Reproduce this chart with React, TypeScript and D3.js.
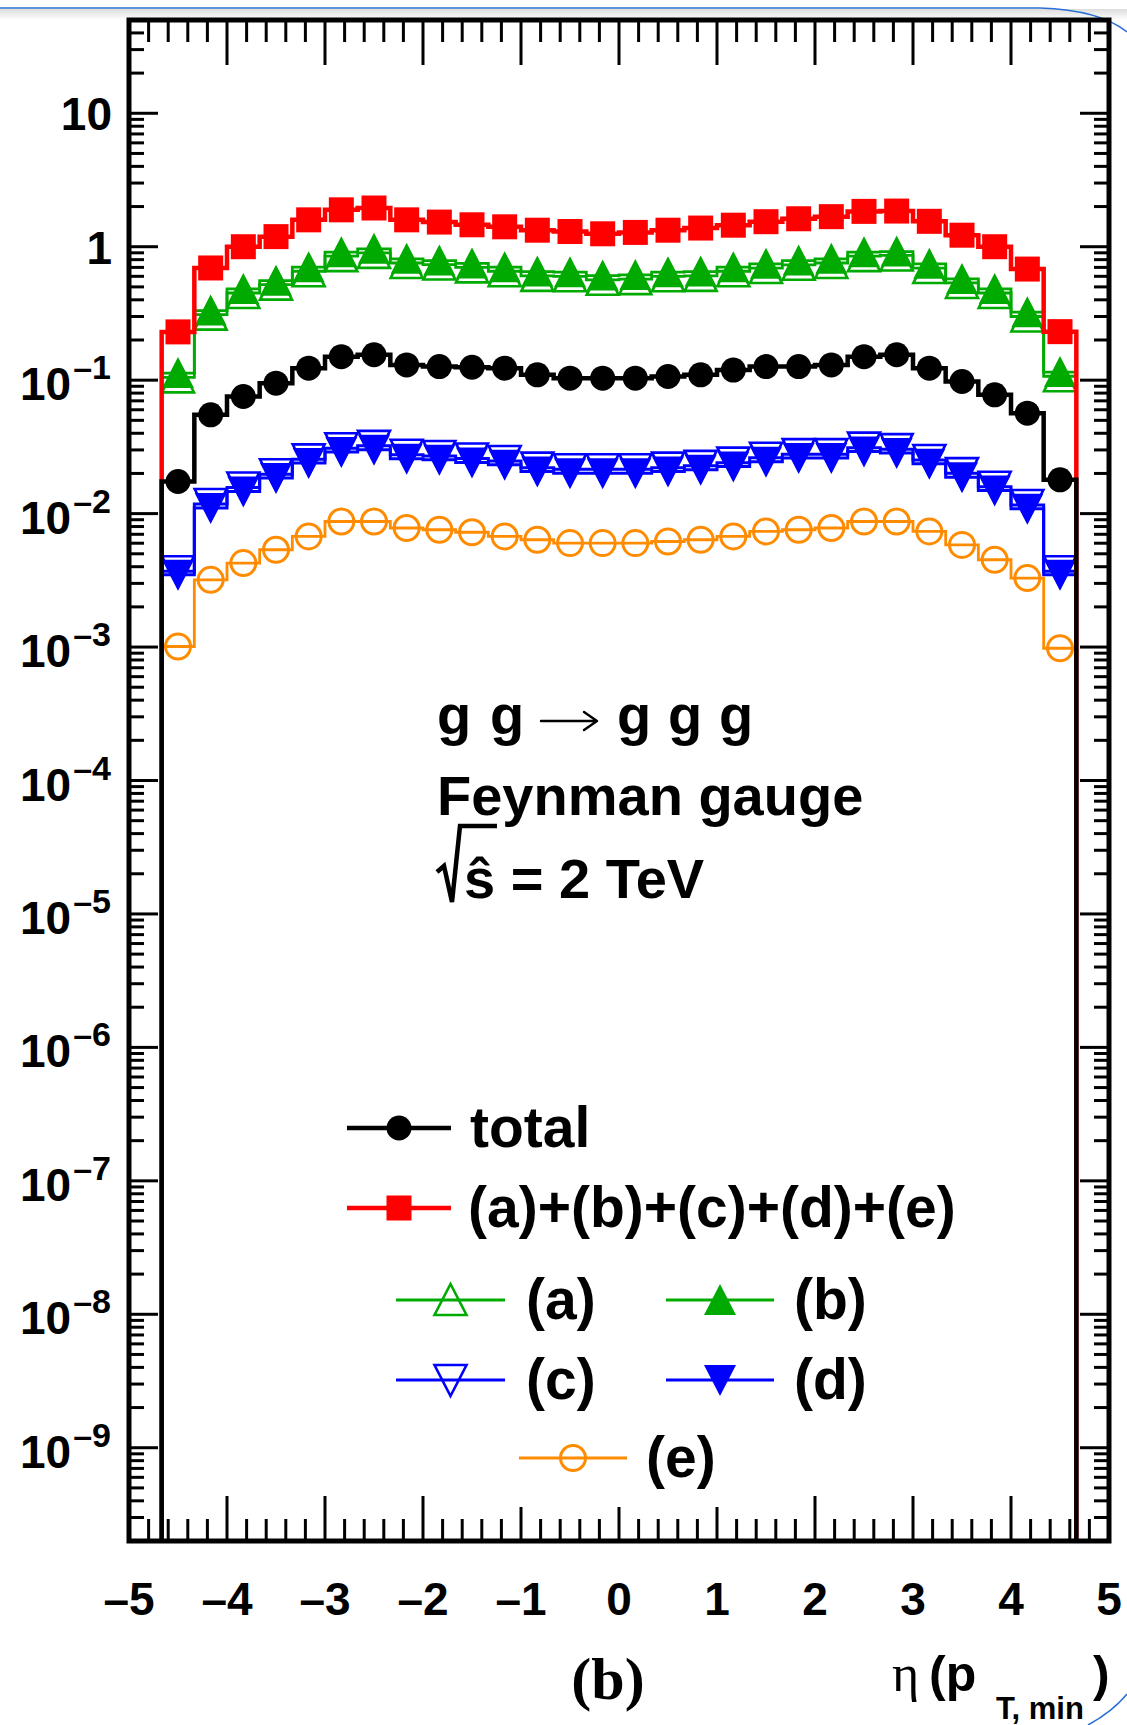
import React from 'react';
import * as d3 from 'd3';

// pseudorapidity binning: 28 bins of width 1/3 between -14/3 and 14/3
const binEdges: number[] = d3.range(29).map((i) => -14 / 3 + i / 3);

// dσ/dη per bin, one array per curve
const totalVals = [
  0.0174, 0.055, 0.0754, 0.095, 0.123, 0.15, 0.155, 0.13, 0.1265, 0.125,
  0.123, 0.1096, 0.1035, 0.1035, 0.1035, 0.1065, 0.1096, 0.119, 0.1265, 0.1265,
  0.13, 0.15, 0.155, 0.123, 0.0977, 0.0777, 0.0566, 0.0179,
];
const sumVals = [
  0.23, 0.693, 1.0, 1.19, 1.59, 1.89, 1.95, 1.59, 1.53, 1.46,
  1.41, 1.33, 1.3, 1.25, 1.28, 1.33, 1.38, 1.45, 1.54, 1.62,
  1.68, 1.84, 1.85, 1.55, 1.22, 1.0, 0.68, 0.231,
];
const aVals = [
  0.105, 0.31, 0.45, 0.52, 0.655, 0.85, 0.9, 0.755, 0.735, 0.7,
  0.655, 0.605, 0.6, 0.565, 0.572, 0.6, 0.605, 0.655, 0.692, 0.732,
  0.755, 0.85, 0.86, 0.692, 0.535, 0.45, 0.3, 0.107,
];
const bVals = [
  0.113, 0.332, 0.483, 0.557, 0.703, 0.91, 0.964, 0.811, 0.787, 0.75,
  0.703, 0.651, 0.645, 0.608, 0.615, 0.645, 0.651, 0.703, 0.744, 0.787,
  0.811, 0.91, 0.92, 0.744, 0.574, 0.483, 0.323, 0.115,
];
const cVals = [
  0.0037, 0.0118, 0.0157, 0.0197, 0.0255, 0.0309, 0.0322, 0.0276, 0.027, 0.0259,
  0.0248, 0.0221, 0.0215, 0.0215, 0.0215, 0.0221, 0.0228, 0.0241, 0.0262, 0.0279,
  0.0279, 0.0312, 0.0304, 0.0252, 0.0201, 0.0159, 0.0116, 0.0037,
];
const dVals = [
  0.00348, 0.011, 0.01465, 0.01845, 0.0239, 0.0289, 0.0301, 0.0258, 0.0253, 0.0242,
  0.0232, 0.0207, 0.0201, 0.0201, 0.0201, 0.0207, 0.0213, 0.0225, 0.0245, 0.0261,
  0.0261, 0.0292, 0.0284, 0.0236, 0.01876, 0.0149, 0.01086, 0.00348,
];
const eVals = [
  0.00101, 0.00319, 0.00426, 0.00536, 0.00674, 0.00873, 0.00873, 0.0078, 0.00757, 0.00725,
  0.00674, 0.00637, 0.00601, 0.00601, 0.00601, 0.00618, 0.00637, 0.00674, 0.00735, 0.00757,
  0.0078, 0.00873, 0.00873, 0.00735, 0.00583, 0.00451, 0.00329, 0.00098,
];

const xTickValues = [-5, -4, -3, -2, -1, 0, 1, 2, 3, 4, 5];
const yDecades = [-9, -8, -7, -6, -5, -4, -3, -2, -1, 0, 1];

type MarkerKind = 'circle' | 'square' | 'triUpOpen' | 'triUp' | 'triDownOpen' | 'triDown' | 'circleOpen';

interface Series {
  key: string;
  label: string;
  values: number[];
  color: string;
  width: number;
  marker: MarkerKind;
}

const RED = '#ff0000';
const GREEN = '#00aa00';
const BLUE = '#0000ff';
const ORANGE = '#ff8c00';

const seriesE: Series = { key: 'e', label: '(e)', values: eVals, color: ORANGE, width: 2.8, marker: 'circleOpen' };
const seriesC: Series = { key: 'c', label: '(c)', values: cVals, color: BLUE, width: 3, marker: 'triDownOpen' };
const seriesD: Series = { key: 'd', label: '(d)', values: dVals, color: BLUE, width: 3, marker: 'triDown' };
const seriesA: Series = { key: 'a', label: '(a)', values: aVals, color: GREEN, width: 2.8, marker: 'triUpOpen' };
const seriesB: Series = { key: 'b', label: '(b)', values: bVals, color: GREEN, width: 2.8, marker: 'triUp' };
const seriesSum: Series = { key: 'sum', label: '(a)+(b)+(c)+(d)+(e)', values: sumVals, color: RED, width: 4.5, marker: 'square' };
const seriesTotal: Series = { key: 'total', label: 'total', values: totalVals, color: '#000000', width: 4.5, marker: 'circle' };

// painter's order: black curve last so it sits on top at the edges
const drawOrder: Series[] = [seriesE, seriesC, seriesD, seriesA, seriesB, seriesSum, seriesTotal];

const W = 1127;
const H = 1725;
const FL = 129;
const FR = 1109;
const FT = 20;
const FB = 1541;

const x = d3.scaleLinear().domain([-5, 5]).range([FL, FR]);
const y = d3.scaleLog().domain([2e-10, 50]).range([FB, FT]);

const SANS = '"Liberation Sans", Arial, Helvetica, sans-serif';
const SERIF = '"Liberation Serif", "Times New Roman", serif';

function stepPath(values: number[]): string {
  const pts: [number, number][] = [[x(binEdges[0]), FB]];
  values.forEach((v, i) => {
    pts.push([x(binEdges[i]), y(v)]);
    pts.push([x(binEdges[i + 1]), y(v)]);
  });
  pts.push([x(binEdges[binEdges.length - 1]), FB]);
  return d3.line()(pts) || '';
}

function Marker({ kind, cx, cy, color }: { kind: MarkerKind; cx: number; cy: number; color: string }) {
  const t = 16;
  switch (kind) {
    case 'circle':
      return <circle cx={cx} cy={cy} r={12.5} fill={color} />;
    case 'square':
      return <rect x={cx - 12.5} y={cy - 12.5} width={25} height={25} fill={color} />;
    case 'circleOpen':
      return <circle cx={cx} cy={cy} r={12.5} fill="none" stroke={color} strokeWidth={3} />;
    case 'triUp':
    case 'triUpOpen': {
      const pts = `${cx - t},${cy + t - 1} ${cx + t},${cy + t - 1} ${cx},${cy - t}`;
      return kind === 'triUp' ? (
        <polygon points={pts} fill={color} />
      ) : (
        <polygon points={pts} fill="none" stroke={color} strokeWidth={2.6} />
      );
    }
    case 'triDown':
    case 'triDownOpen': {
      const pts = `${cx - t},${cy - t + 1} ${cx + t},${cy - t + 1} ${cx},${cy + t}`;
      return kind === 'triDown' ? (
        <polygon points={pts} fill={color} />
      ) : (
        <polygon points={pts} fill="none" stroke={color} strokeWidth={2.6} />
      );
    }
  }
  return null;
}

function HistCurve({ s }: { s: Series }) {
  return (
    <g>
      <path d={stepPath(s.values)} fill="none" stroke={s.color} strokeWidth={s.width} strokeLinejoin="miter" />
      {s.values.map((v, i) => (
        <Marker key={i} kind={s.marker} cx={x((binEdges[i] + binEdges[i + 1]) / 2)} cy={y(v)} color={s.color} />
      ))}
    </g>
  );
}

function Axes() {
  const xMinor = d3.range(-50, 51, 2).map((v) => v / 10).filter((v) => Math.abs(v - Math.round(v)) > 1e-6);
  const yMinor: number[] = [];
  for (let dec = -10; dec <= 1; dec++) {
    for (let m = 2; m <= 9; m++) {
      const v = m * Math.pow(10, dec);
      if (v >= 2e-10 && v <= 50) yMinor.push(v);
    }
  }
  const tw = 3;
  const xMajLen = 45;
  const xMinLen = 22;
  const yMajLen = 29;
  const yMinLen = 15;
  return (
    <g stroke="#000" strokeWidth={tw}>
      {xTickValues.map((v) => (
        <g key={`xM${v}`}>
          <line x1={x(v)} x2={x(v)} y1={FB} y2={FB - xMajLen} />
          <line x1={x(v)} x2={x(v)} y1={FT} y2={FT + xMajLen} />
        </g>
      ))}
      {xMinor.map((v) => (
        <g key={`xm${v}`}>
          <line x1={x(v)} x2={x(v)} y1={FB} y2={FB - xMinLen} />
          <line x1={x(v)} x2={x(v)} y1={FT} y2={FT + xMinLen} />
        </g>
      ))}
      {yDecades.map((d) => (
        <g key={`yM${d}`}>
          <line x1={FL} x2={FL + yMajLen} y1={y(Math.pow(10, d))} y2={y(Math.pow(10, d))} />
          <line x1={FR} x2={FR - yMajLen} y1={y(Math.pow(10, d))} y2={y(Math.pow(10, d))} />
        </g>
      ))}
      {yMinor.map((v, i) => (
        <g key={`ym${i}`}>
          <line x1={FL} x2={FL + yMinLen} y1={y(v)} y2={y(v)} />
          <line x1={FR} x2={FR - yMinLen} y1={y(v)} y2={y(v)} />
        </g>
      ))}
    </g>
  );
}

function AxisLabels() {
  return (
    <g fontFamily={SANS} fontWeight="bold" fill="#000">
      {xTickValues.map((v) => (
        <text key={`xl${v}`} x={x(v)} y={1615} fontSize={46} textAnchor="middle">
          {v < 0 ? `\u2013${Math.abs(v)}` : `${v}`}
        </text>
      ))}
      {yDecades.map((d) => {
        const yy = y(Math.pow(10, d));
        if (d === 0 || d === 1) {
          return (
            <text key={`yl${d}`} x={112} y={yy + 17} fontSize={46} textAnchor="end">
              {d === 0 ? '1' : '10'}
            </text>
          );
        }
        return (
          <text key={`yl${d}`} x={111} y={yy + 20} fontSize={46} textAnchor="end">
            10
            <tspan fontSize={34} dy={-21} dx={2}>{`\u2013${Math.abs(d)}`}</tspan>
          </text>
        );
      })}
    </g>
  );
}

interface LegendEntry {
  s: Series;
  x0: number;
  x1: number;
  tx: number;
  cy: number;
}

const legendEntries: LegendEntry[] = [
  { s: seriesTotal, x0: 347, x1: 451, tx: 470, cy: 1128 },
  { s: seriesSum, x0: 347, x1: 451, tx: 468, cy: 1208 },
  { s: seriesA, x0: 396, x1: 505, tx: 526, cy: 1300 },
  { s: seriesB, x0: 666, x1: 774, tx: 794, cy: 1300 },
  { s: seriesC, x0: 396, x1: 505, tx: 526, cy: 1380 },
  { s: seriesD, x0: 666, x1: 774, tx: 794, cy: 1380 },
  { s: seriesE, x0: 519, x1: 627, tx: 646, cy: 1458 },
];

function Legend() {
  return (
    <g>
      <rect x={470} y={1425} width={315} height={82} fill="#ffffff" />
      {legendEntries.map((e) => {
        const mx = (e.x0 + e.x1) / 2;
        return (
          <g key={e.s.key}>
            <line x1={e.x0} x2={e.x1} y1={e.cy} y2={e.cy} stroke={e.s.color} strokeWidth={e.s.width} />
            <Marker kind={e.s.marker} cx={mx} cy={e.cy} color={e.s.color} />
            <text x={e.tx} y={e.cy + 19} fontFamily={SANS} fontWeight="bold" fontSize={57} fill="#000">
              {e.s.label}
            </text>
          </g>
        );
      })}
    </g>
  );
}

function ProcessText() {
  return (
    <g fontFamily={SANS} fontWeight="bold" fontSize={56} fill="#000">
      <text y={734}>
        <tspan x={437}>g</tspan>
        <tspan x={490}>g</tspan>
        <tspan x={617}>g</tspan>
        <tspan x={668}>g</tspan>
        <tspan x={719}>g</tspan>
      </text>
      {/* thin right arrow between initial and final state */}
      <path d="M541 721 L596 721 M584 712 L597 721 L584 730" fill="none" stroke="#000" strokeWidth={2.4} strokeLinecap="round" strokeLinejoin="round" />
      <text x={437} y={815}>Feynman gauge</text>
      <path d="M437 872 L444 866 L452 902 L460 826 L497 826" fill="none" stroke="#000" strokeWidth={4.5} strokeLinejoin="miter" />
      <text x={464} y={898}>{'\u015D = 2 TeV'}</text>
    </g>
  );
}

function Titles() {
  return (
    <g fill="#000">
      <text x={608} y={1699} fontFamily={SERIF} fontWeight="bold" fontSize={60} textAnchor="middle">
        (b)
      </text>
      <text x={892} y={1691} fontFamily={SERIF} fontSize={52}>
        {'\u03B7'}
      </text>
      <text x={929} y={1691} fontFamily={SANS} fontWeight="bold" fontSize={50}>
        (p
      </text>
      <text x={996} y={1719} fontFamily={SANS} fontWeight="bold" fontSize={31}>
        T, min
      </text>
      <text x={1093} y={1691} fontFamily={SANS} fontWeight="bold" fontSize={50}>
        )
      </text>
    </g>
  );
}

export default function App() {
  return (
    <svg
      width={W}
      height={H}
      viewBox={`0 0 ${W} ${H}`}
      style={{ position: 'absolute', left: 0, top: 0, display: 'block', background: '#fff' }}
    >
      <defs>
        <linearGradient id="topShade" x1="0" y1="0" x2="0" y2="1">
          <stop offset="0" stopColor="#dcdcdc" />
          <stop offset="1" stopColor="#ffffff" />
        </linearGradient>
      </defs>
      <rect x={0} y={0} width={W} height={H} fill="#ffffff" />
      <rect x={0} y={9} width={W} height={11} fill="url(#topShade)" />
      <path d="M0 8 L1040 8 Q1100 10 1127 32" fill="none" stroke="#2a6fd6" strokeWidth={1.5} />
      <path d="M1088 1725 Q1112 1712 1127 1694" fill="none" stroke="#2a6fd6" strokeWidth={1.5} />

      <Axes />
      {drawOrder.map((s) => (
        <HistCurve key={s.key} s={s} />
      ))}
      <rect x={FL} y={FT} width={FR - FL} height={FB - FT} fill="none" stroke="#000" strokeWidth={5} />
      <AxisLabels />
      <ProcessText />
      <Legend />
      <Titles />
    </svg>
  );
}
